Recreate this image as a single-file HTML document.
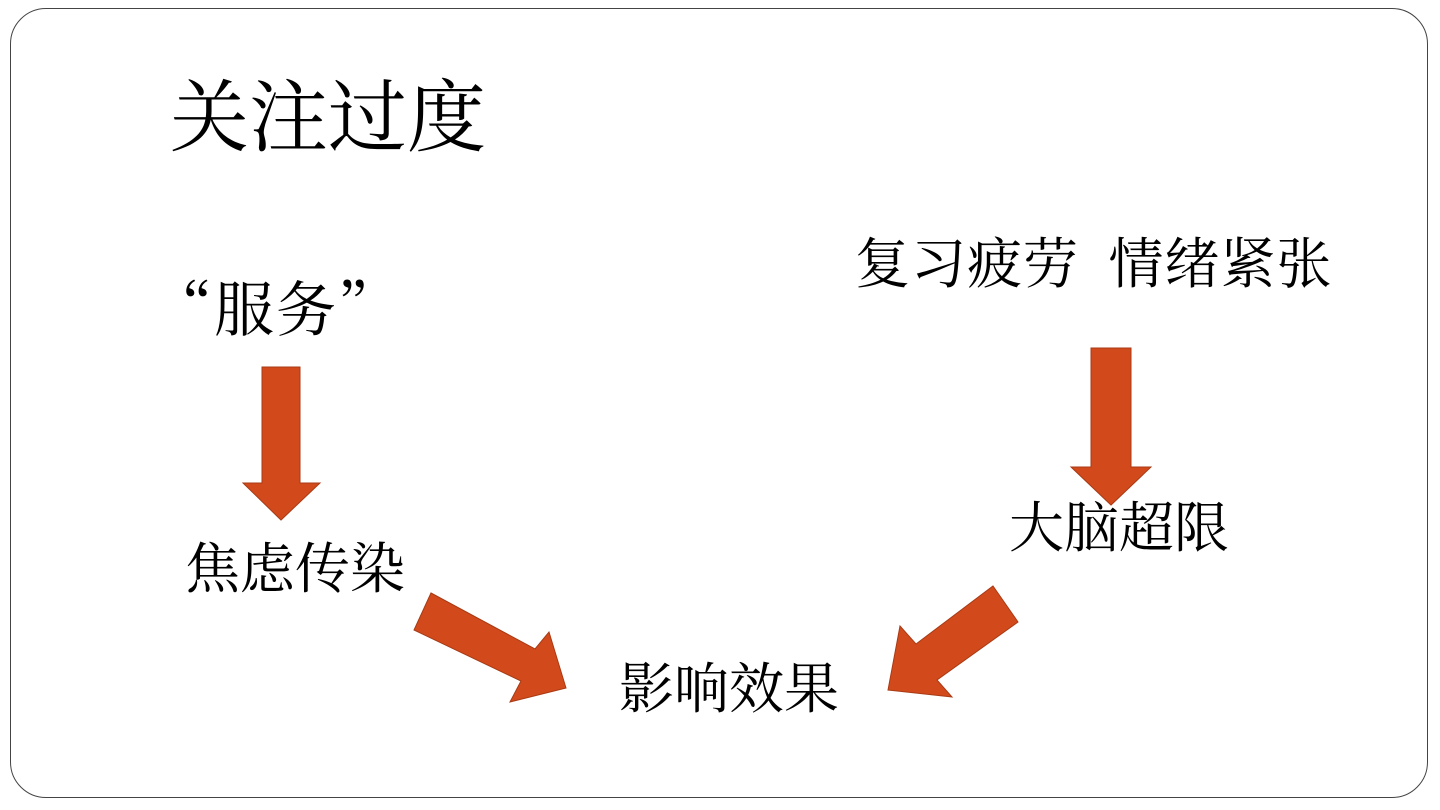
<!DOCTYPE html>
<html><head><meta charset="utf-8"><style>
body{margin:0;width:1440px;height:810px;background:#fff;position:relative;overflow:hidden;font-family:"Liberation Serif","Noto Serif CJK SC",serif;color:#000}
.b{position:absolute;left:10px;top:8px;width:1418px;height:790px;border:1.5px solid #444;border-radius:36px;box-sizing:border-box}
.t{position:absolute;white-space:nowrap;line-height:1}
</style></head><body>
<div class="b"></div>
<div class="t" style="left:170px;top:80px;font-size:79px">关注过度</div>
<div class="t" style="left:152px;top:276px;font-size:60px;letter-spacing:2px;font-family:'Noto Serif CJK SC',serif">“服务”</div>
<div class="t" style="left:855px;top:237px;font-size:55px;letter-spacing:1px">复习疲劳&nbsp;&nbsp;情绪紧张</div>
<div class="t" style="left:1009px;top:501px;font-size:55px">大脑超限</div>
<div class="t" style="left:185px;top:542px;font-size:55px">焦虑传染</div>
<div class="t" style="left:619px;top:662px;font-size:55px">影响效果</div>
<svg width="1440" height="810" style="position:absolute;left:0;top:0">
<g fill="#d24a1c" stroke="#a83a14" stroke-width="1">
<polygon points="262,367 300,367 300,483 320,483 281,520 243,483 262,483"/>
<polygon points="1091,348 1131,348 1131,467 1151,467 1111,505 1071,467 1091,467"/>
<polygon points="431,593 535,649 549,632 566,688 510,702 521,681 414,630"/>
<polygon points="993,586 1018,622 937,680 952,697 888,690 900,626 916,644"/>
</g></svg>
</body></html>
